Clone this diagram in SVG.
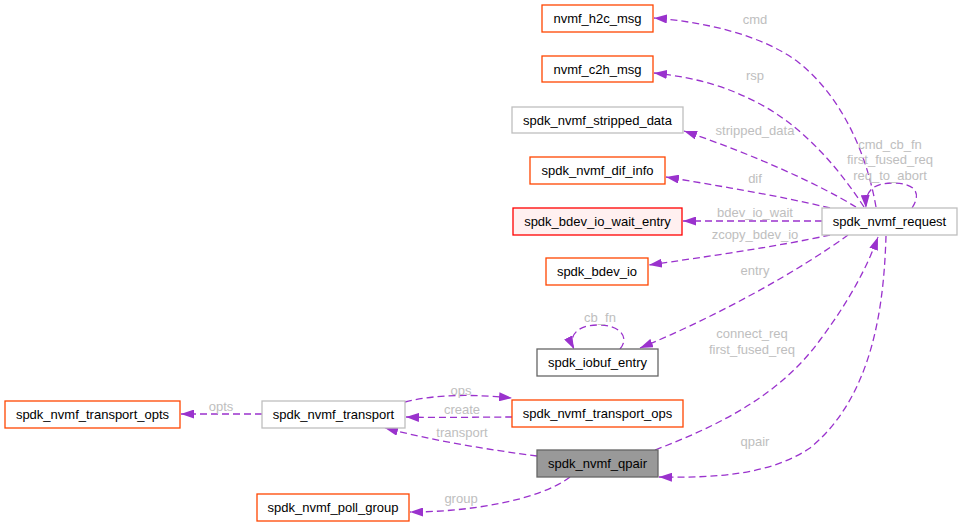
<svg xmlns="http://www.w3.org/2000/svg" width="963" height="527" viewBox="0 0 963 527">
<defs>
<marker id="ah" markerUnits="userSpaceOnUse" markerWidth="13" markerHeight="9" refX="13" refY="4.5" orient="auto">
<path d="M0,0 L13,4.5 L0,9 z" fill="#9a32cd"/>
</marker>
<style>
.n rect{stroke-width:1.3}
.o rect{fill:#fff;stroke:#ff4500}
.g rect{fill:#fff;stroke:#bfbfbf}
.r rect{fill:#fff0f0;stroke:#ff0000}
.d rect{fill:#fff;stroke:#666}
.q rect{fill:#999;stroke:#666}
text{font-family:"Liberation Sans",Arial,sans-serif;font-size:13px}
.n text{fill:#000;text-anchor:middle}
.e path{fill:none;stroke:#9a32cd;stroke-width:1.3;stroke-dasharray:7,4;marker-end:url(#ah)}
.e text{fill:#bebebe;text-anchor:middle}
</style>
</defs>
<rect width="963" height="527" fill="#fff"/>
<g class="e" id="edges">
<path d="M876,207 C866,150 840,95 798,62 C762,35 705,22 654,18"/>
<text x="755" y="24">cmd</text>
<path d="M864,207 C840,170 805,128 760,104 C730,88 700,78 654,73"/>
<text x="755" y="80">rsp</text>
<path d="M856,207 C820,185 755,155 684,131"/>
<text x="755" y="135">stripped_data</text>
<path d="M830,208 C780,196 720,186 666,177"/>
<text x="755" y="183">dif</text>
<path d="M822,221 L683,221"/>
<text x="755" y="217">bdev_io_wait</text>
<path d="M830,235 C780,246 705,257 649,265"/>
<text x="755" y="239">zcopy_bdev_io</text>
<path d="M848,235 C800,270 720,315 640,348"/>
<text x="755" y="275">entry</text>
<path d="M620,349 C630,337 620,325 598,325 C576,325 568,337 574,349"/>
<text x="600" y="322">cb_fn</text>
<path d="M912,208 C922,193 915,183 893,183 C872,183 865,192 866,208"/>
<text x="890" y="149">cmd_cb_fn</text>
<text x="890" y="164">first_fused_req</text>
<text x="890" y="180">req_to_abort</text>
<path d="M655,450 C720,425 780,395 820,340 C850,300 868,265 878,237"/>
<text x="752" y="338">connect_req</text>
<text x="752" y="354">first_fused_req</text>
<path d="M886,236 C884,300 875,395 810,448 C770,475 715,478 659,477"/>
<text x="755" y="446">qpair</text>
<path d="M537,456 C490,450 430,440 385,428"/>
<text x="462" y="437">transport</text>
<path d="M405,402 C440,393 480,395 512,398"/>
<text x="461" y="395">ops</text>
<path d="M512,417 C480,417 440,418 406,417"/>
<text x="462" y="414">create</text>
<path d="M262,414 L181,414"/>
<text x="221" y="411">opts</text>
<path d="M570,477 C540,500 470,512 410,512"/>
<text x="461" y="503">group</text>
</g>
<g class="n o" id="nvmf_h2c_msg"><rect x="542" y="5" width="111" height="27"/><text x="597.5" y="23">nvmf_h2c_msg</text></g>
<g class="n o" id="nvmf_c2h_msg"><rect x="542" y="56" width="111" height="26"/><text x="597.5" y="74">nvmf_c2h_msg</text></g>
<g class="n g" id="spdk_nvmf_stripped_data"><rect x="512" y="107" width="171" height="26"/><text x="597.5" y="125">spdk_nvmf_stripped_data</text></g>
<g class="n o" id="spdk_nvmf_dif_info"><rect x="530" y="157" width="135" height="27"/><text x="597.5" y="175">spdk_nvmf_dif_info</text></g>
<g class="n r" id="spdk_bdev_io_wait_entry"><rect x="513" y="208" width="169" height="27"/><text x="597.5" y="226">spdk_bdev_io_wait_entry</text></g>
<g class="n g" id="spdk_nvmf_request"><rect x="822" y="208" width="135" height="27"/><text x="889.5" y="226">spdk_nvmf_request</text></g>
<g class="n o" id="spdk_bdev_io"><rect x="546" y="258" width="102" height="27"/><text x="597" y="276">spdk_bdev_io</text></g>
<g class="n d" id="spdk_iobuf_entry"><rect x="537" y="349" width="121" height="27"/><text x="597.5" y="367">spdk_iobuf_entry</text></g>
<g class="n o" id="spdk_nvmf_transport_ops"><rect x="512" y="400" width="171" height="27"/><text x="597.5" y="418">spdk_nvmf_transport_ops</text></g>
<g class="n q" id="spdk_nvmf_qpair"><rect x="537" y="450" width="121" height="27"/><text x="597.5" y="468">spdk_nvmf_qpair</text></g>
<g class="n o" id="spdk_nvmf_transport_opts"><rect x="5" y="401" width="175" height="27"/><text x="92.5" y="419">spdk_nvmf_transport_opts</text></g>
<g class="n g" id="spdk_nvmf_transport"><rect x="262" y="401" width="143" height="27"/><text x="333.5" y="419">spdk_nvmf_transport</text></g>
<g class="n o" id="spdk_nvmf_poll_group"><rect x="257" y="494" width="152" height="27"/><text x="333" y="512">spdk_nvmf_poll_group</text></g>
</svg>
